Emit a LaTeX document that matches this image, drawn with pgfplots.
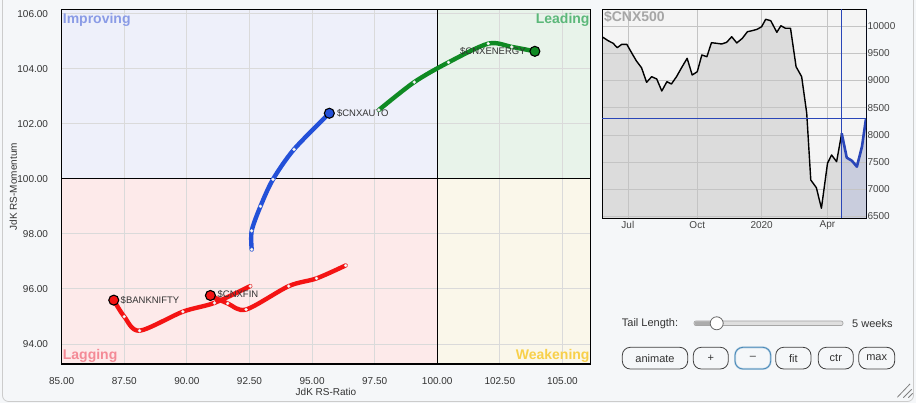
\documentclass[border=0pt]{standalone}
\usepackage{pgfplots}
\pgfplotsset{compat=1.18}
\usepackage{fontspec}
\setmainfont{Liberation Sans}
\newcommand\fs[1]{\fontsize{#1}{#1}\selectfont}
\definecolor{pagebg}{HTML}{F5F7F9}
\definecolor{framec}{HTML}{CCCCCC}
\definecolor{impr}{HTML}{EEF0FA}
\definecolor{lead}{HTML}{E8F3EA}
\definecolor{lagg}{HTML}{FDEAEA}
\definecolor{weak}{HTML}{FAF7EA}
\definecolor{imprT}{HTML}{8A9BE6}
\definecolor{leadT}{HTML}{5CB87A}
\definecolor{laggT}{HTML}{F48A96}
\definecolor{weakT}{HTML}{F8D04A}
\definecolor{cgreen}{HTML}{0F8A23}
\definecolor{cblue}{HTML}{2350D8}
\definecolor{cred}{HTML}{F41414}
\definecolor{gridc}{HTML}{DADADA}
\definecolor{txt}{HTML}{333333}
\definecolor{txt2}{HTML}{444444}
\definecolor{pblue}{HTML}{2A46B8}
\definecolor{pfill}{HTML}{DCDCDC}
\definecolor{pbg}{HTML}{F4F4F4}
\definecolor{pgrid}{HTML}{C4C4C4}
\definecolor{bfill}{HTML}{C9CDDD}
\definecolor{btnblue}{HTML}{4A8AB8}
\pgfplotstableread{
w v
0 9805
1.2 9732
2.2 9684
3.0 9603
3.9 9665
4.9 9665
5.9 9500
6.8 9358
7.8 9235
8.8 8967
9.8 9070
10.8 9028
11.8 8807
12.8 8978
13.7 8936
14.7 9070
15.7 9235
16.8 9408
17.8 9101
18.8 9162
19.7 9469
20.7 9438
21.6 9695
22.6 9684
23.6 9671
24.6 9702
25.6 9805
26.6 9690
27.7 9776
28.7 9897
29.6 9915
30.6 9941
31.5 9989
32.3 10125
33.3 10099
34.5 9886
35.3 10007
36.2 9960
37.2 9960
38.3 9254
39.4 9070
40.4 8400
41.2 7171
42.3 7030
43.3 6651
44.5 7478
45.3 7631
46.3 7508
47.3 8030
}\pricea
\pgfplotstableread{
w v
47.3 8030
48.3 7581
49.3 7526
50.3 7416
51.3 7783
52.1 8299.35
}\priceb
\begin{document}
\begin{tikzpicture}[x=1pt,y=1pt]
\fill[pagebg] (0,0) rectangle (916,403);
\begin{scope}
\clip (0,0) rectangle (916,403);
\draw[framec, line width=0.8pt, rounded corners=6pt] (2.5,1.5) rectangle (913.5,430);
\end{scope}

% ---------------- RRG: quadrant backgrounds ----------------
\begin{axis}[
  at={(61.7pt,39pt)}, anchor=south west,
  scale only axis, width=529pt, height=354.5pt,
  xmin=85, xmax=106.13, ymin=93.27, ymax=106.15, hide axis,
]
\fill[impr] (axis cs:85,100) rectangle (axis cs:100,106.15);
\fill[lead] (axis cs:100,100) rectangle (axis cs:106.13,106.15);
\fill[lagg] (axis cs:85,93.27) rectangle (axis cs:100,100);
\fill[weak] (axis cs:100,93.27) rectangle (axis cs:106.13,100);
\end{axis}

% ---------------- RRG main axis ----------------
\begin{axis}[
  at={(61.7pt,39pt)}, anchor=south west,
  scale only axis, width=529pt, height=354.5pt,
  xmin=85, xmax=106.13, ymin=93.27, ymax=106.15,
  xtick={85,87.5,90,92.5,95,97.5,100,102.5,105},
  ytick={94,96,98,100,102,104,106},
  scaled x ticks=false, scaled y ticks=false,
  xticklabel={\pgfmathprintnumber[fixed,fixed zerofill,precision=2,assume math mode=true]{\tick}},
  yticklabel={\pgfmathprintnumber[fixed,fixed zerofill,precision=2,assume math mode=true]{\tick}},
  xticklabel style={anchor=center, yshift=-16.7pt, font=\fs{10}, text=txt},
  yticklabel style={anchor=east, inner sep=0pt, xshift=-13.5pt, font=\fs{10}, text=txt},
  major tick length=0pt,
  grid=major, grid style={gridc, line width=0.8pt},
  axis line style={black, line width=1.2pt},
]
\draw[black, line width=0.9pt] (axis cs:100,93.27) -- (axis cs:100,106.15);
\draw[black, line width=0.9pt] (axis cs:85,100) -- (axis cs:106.13,100);

\node[anchor=base west, inner sep=0pt, xshift=1pt, font=\bfseries\fs{14}, text=imprT] at (rel axis cs:0,0.9605) {Improving};
\node[anchor=base east, inner sep=0pt, xshift=-1pt, font=\bfseries\fs{14}, text=leadT] at (rel axis cs:1,0.9605) {Leading};
\node[anchor=base west, inner sep=0pt, xshift=1pt, font=\bfseries\fs{14}, text=laggT] at (rel axis cs:0,0.0113) {Lagging};
\node[anchor=base east, inner sep=0pt, xshift=-1pt, font=\bfseries\fs{14}, text=weakT] at (rel axis cs:1,0.0113) {Weakening};

% tails
\addplot[cred, line width=4.4pt, line cap=round, smooth, mark=*, mark size=1.5pt,
  mark options={fill=white, draw=white!75!gray, line width=0.4pt}]
  coordinates {(96.34,96.85) (95.18,96.38) (94.07,96.10) (92.37,95.25) (91.63,95.47) (90.94,95.76)};
\addplot[cred, line width=4.4pt, line cap=round, smooth, mark=*, mark size=1.5pt,
  mark options={fill=white, draw=white!75!gray, line width=0.4pt}]
  coordinates {(92.53,96.10) (91.10,95.49) (89.84,95.17) (88.11,94.48) (87.50,94.99) (87.08,95.59)};
\addplot[cblue, line width=4.4pt, line cap=round, smooth, mark=*, mark size=1.5pt,
  mark options={fill=white, draw=white!75!gray, line width=0.4pt}]
  coordinates {(92.59,97.43) (92.59,98.11) (92.94,99.00) (93.44,99.98) (94.28,101.07) (95.69,102.38)};
\addplot[cgreen, line width=4.4pt, line cap=round, smooth, mark=*, mark size=1.5pt,
  mark options={fill=white, draw=white!75!gray, line width=0.4pt}]
  coordinates {(97.67,102.50) (99.08,103.51) (100.45,104.23) (102.04,104.91) (102.98,104.79) (103.90,104.63)};

% heads
\addplot[only marks, mark=*, mark size=5pt, mark options={fill=cred, draw=black, line width=1.1pt}] coordinates {(90.94,95.76) (87.08,95.59)};
\addplot[only marks, mark=*, mark size=5pt, mark options={fill=cblue, draw=black, line width=1.1pt}] coordinates {(95.69,102.38)};
\addplot[only marks, mark=*, mark size=5pt, mark options={fill=cgreen, draw=black, line width=1.1pt}] coordinates {(103.90,104.63)};

\node[anchor=west, inner sep=0pt, font=\fs{9.5}, text=txt] at (axis cs:100.91,104.63) {\$CNXENERGY};
\node[anchor=west, inner sep=0pt, font=\fs{9.5}, text=txt] at (axis cs:95.99,102.39) {\$CNXAUTO};
\node[anchor=west, inner sep=0pt, font=\fs{9.5}, text=txt] at (axis cs:87.35,95.60) {\$BANKNIFTY};
\node[anchor=west, inner sep=0pt, font=\fs{9.5}, text=txt] at (axis cs:91.22,95.79) {\$CNXFIN};
\end{axis}

\node[font=\fs{10}, text=txt] at (326,11.3) {JdK RS-Ratio};
\node[font=\fs{10}, text=txt, rotate=90] at (13.4,216.3) {JdK RS-Momentum};

% ---------------- price panel: fills ----------------
\begin{axis}[
  at={(602pt,184.7pt)}, anchor=south west,
  scale only axis, width=264pt, height=209pt,
  xmin=0, xmax=52.1, ymin=6467, ymax=10309, hide axis,
]
\fill[pbg] (axis cs:0,6467) rectangle (axis cs:52.1,10309);
\addplot[fill=pfill, draw=none] table {\pricea} |- (axis cs:0,6467) -- cycle;
\addplot[fill=pfill, draw=none] table {\priceb} |- (axis cs:47.3,6467) -- cycle;
\addplot[fill=bfill, draw=none] table {\priceb} |- (axis cs:47.3,6467) -- cycle;
\end{axis}

% ---------------- price panel: axis ----------------
\begin{axis}[
  at={(602pt,184.7pt)}, anchor=south west,
  scale only axis, width=264pt, height=209pt,
  xmin=0, xmax=52.1, ymin=6467, ymax=10309,
  xtick={5.1,18.8,31.5,44.5}, xticklabels={Jul,Oct,2020,Apr},
  ytick={6500,7000,7500,8000,8500,9000,9500,10000},
  scaled y ticks=false,
  yticklabel pos=right,
  yticklabel={\pgfmathprintnumber[1000 sep={},fixed,precision=0,assume math mode=true]{\tick}},
  xticklabel style={anchor=center, yshift=-6.7pt, font=\fs{10}, text=txt2},
  yticklabel style={anchor=west, inner sep=0pt, xshift=1.3pt, font=\fs{10}, text=txt2},
  major tick length=0pt,
  grid=major, grid style={pgrid, line width=0.7pt},
  axis line style={black, line width=1pt},
]
\addplot[black, line width=1.4pt, line join=round] table {\pricea};
\draw[pblue, line width=0.9pt] (axis cs:47.3,6467) -- (axis cs:47.3,10309);
\draw[pblue, line width=0.9pt] (axis cs:0,8299.35) -- (axis cs:52.1,8299.35);
\addplot[pblue, line width=2.6pt, line join=round] table {\priceb};
\draw[pblue, line width=1pt] (rel axis cs:1,0) -- (rel axis cs:1,1);
\node[anchor=west, inner sep=0pt, xshift=1.8pt, font=\bfseries\fs{14}, text=black!35] at (rel axis cs:0,0.962) {\$CNX500};
\node[anchor=west, inner sep=0pt, xshift=1.8pt, font=\fs{9.5}, text=pblue] at (axis cs:52.1,8299.35) {8299.35};
\end{axis}

% ---------------- widgets ----------------
\node[anchor=west, inner sep=0pt, font=\fs{11}, text=txt] at (621.7,79.7) {Tail Length:};
\draw[gray!70, fill=gray!25, rounded corners=2pt, line width=0.7pt] (694,77.4) rectangle (843,82);
\fill[gray!65, rounded corners=2pt] (694.5,77.9) rectangle (712,81.5);
\draw[black!60, fill=white, line width=0.8pt] (716.7,79.7) circle (6.5);
\node[anchor=west, inner sep=0pt, font=\fs{11}, text=txt] at (852,79.7) {5 weeks};

\foreach \a/\b/\t in {622.3/687.7/animate, 693.3/728.3/+, 775.7/811/fit, 818.3/853.3/ctr, 858.7/894.7/max}{
  \draw[black!75, line width=0.8pt, rounded corners=8pt] (\a,34) rectangle (\b,55.7);
  \node[font=\fs{11}, text=txt] at ({(\a+\b)/2},44.9) {\t};
}
\draw[btnblue!40, line width=2pt, rounded corners=8pt] (735,34) rectangle (770.7,55.7);
\draw[btnblue, line width=0.8pt, rounded corners=8pt] (735,34) rectangle (770.7,55.7);
\node[font=\fs{11}, text=txt] at (752.85,44.9) {\textendash};

\draw[gray, line width=0.8pt] (910,19) -- (897.3,5.7);
\draw[gray, line width=0.8pt] (911.7,13.7) -- (903.3,5.3);
\draw[gray, line width=0.8pt] (912.7,9.7) -- (908.3,5.3);
\end{tikzpicture}
\end{document}
